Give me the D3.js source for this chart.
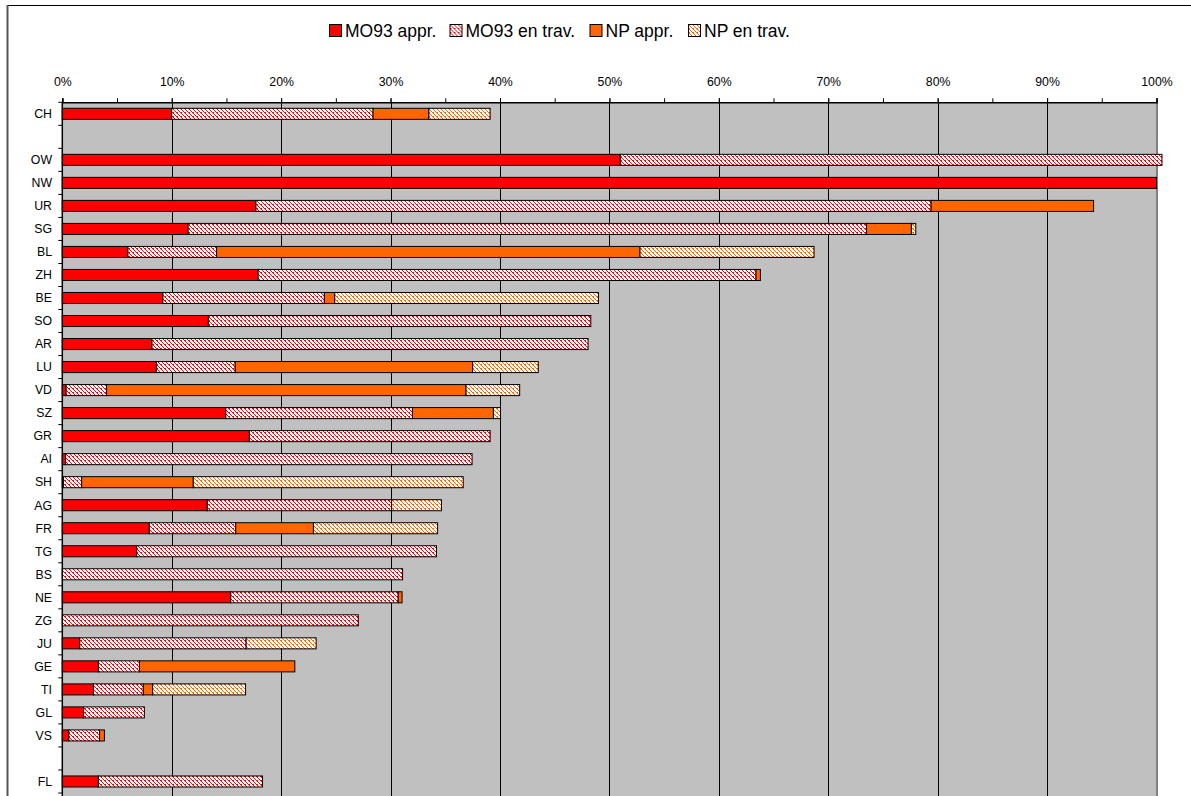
<!DOCTYPE html>
<html>
<head>
<meta charset="utf-8">
<script src="https://cdn.jsdelivr.net/npm/d3@7"></script>
<style>
  html, body { margin: 0; padding: 0; background: #fff; }
  svg { display: block; font-family: "Liberation Sans", Arial, sans-serif; }
</style>
</head>
<body>
<svg id="chart" width="1191" height="796"></svg>
<script>
// Cantons (blank slots separate CH and FL from the cantonal rows)
const categories = ["CH", "gap1", "OW", "NW", "UR", "SG", "BL", "ZH", "BE", "SO", "AR", "LU", "VD", "SZ",
  "GR", "AI", "SH", "AG", "FR", "TG", "BS", "NE", "ZG", "JU", "GE", "TI", "GL", "VS", "gap2", "FL"];

// Share of surface in percent, per state of the survey
const mo93Appr = [10.0, 0, 51.0, 100, 17.7, 11.5, 6.0, 17.9, 9.2, 13.35, 8.2, 8.6, 0.35, 14.95,
  17.1, 0.3, 0.1, 13.25, 7.95, 6.8, 0, 15.4, 0, 1.6, 3.3, 2.85, 1.95, 0.6, 0, 3.3];
const mo93Trav = [18.4, 0, 49.5, 0, 61.7, 62.0, 8.1, 45.5, 14.75, 34.95, 39.85, 7.2, 3.7, 17.05,
  22.0, 37.15, 1.67, 16.85, 7.9, 27.4, 31.1, 15.3, 27.05, 15.2, 3.75, 4.55, 5.55, 2.8, 0, 15.0];
const npAppr = [5.1, 0, 0, 0, 14.85, 4.1, 38.7, 0.4, 0.95, 0, 0, 21.7, 32.85, 7.4,
  0, 0, 10.2, 0, 7.1, 0, 0, 0.35, 0, 0, 14.2, 0.85, 0, 0.45, 0, 0];
const npTrav = [5.6, 0, 0, 0, 0, 0.4, 15.9, 0, 24.1, 0, 0, 6.0, 4.9, 0.65,
  0, 0, 24.67, 4.55, 11.35, 0, 0, 0, 0, 6.4, 0, 8.5, 0, 0, 0, 0];

const seriesNames = ["MO93 appr.", "MO93 en trav.", "NP appr.", "NP en trav."];
const xTicks = [0, 10, 20, 30, 40, 50, 60, 70, 80, 90, 100];

const svg = d3.select("#chart");
const defs = svg.append("defs");

// Dotted diagonal fill used for the "en trav." series
function dotPattern(id, color) {
  const p = defs.append("pattern").attr("id", id)
    .attr("patternUnits", "userSpaceOnUse").attr("width", 4).attr("height", 4);
  p.append("rect").attr("width", 4).attr("height", 4).attr("fill", "#fff");
  for (let yy = 0; yy < 4; yy++) {
    for (let xx = 0; xx < 4; xx++) {
      const k = (xx - yy + 8) % 4;
      if (k === 0 || (k === 1 && yy === 0)) {
        p.append("rect").attr("x", xx).attr("y", yy).attr("width", 1).attr("height", 1).attr("fill", color);
      }
    }
  }
}
dotPattern("patRed", "#ff0000");
dotPattern("patOrange", "#ff6600");

const fills = ["#ff0000", "url(#patRed)", "#ff6600", "url(#patOrange)"];

// Outer frame of the chart
svg.append("line").attr("x1", 7).attr("x2", 1191).attr("y1", 5.5).attr("y2", 5.5)
  .attr("stroke", "#000").attr("stroke-width", 1);
svg.append("line").attr("x1", 7.5).attr("x2", 7.5).attr("y1", 5).attr("y2", 796)
  .attr("stroke", "#555").attr("stroke-width", 2);

const plot = { left: 62.3, right: 1156.5, top: 102.3, bottom: 793 };

const x = d3.scaleLinear().domain([0, 100]).range([plot.left, plot.right]);
const y = d3.scaleBand().domain(categories).range([plot.top, plot.bottom]).padding(0);
const barH = y.bandwidth() * 0.48;

// Plot area
svg.append("rect")
  .attr("x", plot.left).attr("y", plot.top)
  .attr("width", plot.right - plot.left).attr("height", plot.bottom - plot.top + 10)
  .attr("fill", "#c0c0c0");
svg.append("line")
  .attr("x1", plot.right + 0.5).attr("x2", plot.right + 0.5)
  .attr("y1", plot.top).attr("y2", 796)
  .attr("stroke", "#808080").attr("stroke-width", 2);

// Vertical gridlines
svg.append("g").selectAll("line")
  .data(xTicks.filter(d => d > 0 && d < 100))
  .join("line")
  .attr("x1", d => Math.round(x(d)) + 0.5).attr("x2", d => Math.round(x(d)) + 0.5)
  .attr("y1", plot.top).attr("y2", 796)
  .attr("stroke", "#000").attr("stroke-width", 1);

// Stacked bars
const stackData = categories.map((c, i) => ({
  cat: c,
  vals: [mo93Appr[i], mo93Trav[i], npAppr[i], npTrav[i]]
}));
const segs = [];
stackData.forEach(r => {
  let acc = 0;
  r.vals.forEach((v, s) => {
    if (v > 0) segs.push({ cat: r.cat, s, x0: acc, x1: acc + v });
    acc += v;
  });
});
svg.append("g").selectAll("rect")
  .data(segs)
  .join("rect")
  .attr("x", d => x(d.x0))
  .attr("width", d => x(d.x1) - x(d.x0))
  .attr("y", d => y(d.cat) + (y.bandwidth() - barH) / 2)
  .attr("height", barH)
  .attr("fill", d => fills[d.s])
  .attr("stroke", "#000")
  .attr("stroke-width", 1);

// Top axis: minor ticks every 5%, labelled major ticks every 10%
const minorAxis = svg.append("g").attr("transform", `translate(0,${plot.top})`)
  .call(d3.axisTop(x).tickValues(d3.range(0, 101, 5)).tickSize(4).tickFormat(""));
minorAxis.select(".domain").remove();
minorAxis.selectAll("line").attr("stroke", "#000");

const topAxis = svg.append("g").attr("transform", `translate(0,${plot.top})`)
  .call(d3.axisTop(x).tickValues(xTicks).tickSize(4).tickPadding(12).tickFormat(d => d + "%"));
topAxis.select(".domain").attr("stroke", "#000").attr("stroke-width", 1.5);
topAxis.selectAll("line").attr("stroke", "#000");
topAxis.selectAll("text").attr("font-size", 12.3).attr("fill", "#000")
  .attr("font-family", "Liberation Sans, Arial, sans-serif");

// Left axis: ticks on band boundaries, labels at band centres
const leftAxis = svg.append("g");
leftAxis.append("line")
  .attr("x1", plot.left).attr("x2", plot.left)
  .attr("y1", plot.top).attr("y2", 796)
  .attr("stroke", "#000").attr("stroke-width", 1.5);
leftAxis.selectAll("line.tick")
  .data(categories.map(c => y(c)).concat([plot.bottom]))
  .join("line").attr("class", "tick")
  .attr("x1", plot.left - 4).attr("x2", plot.left)
  .attr("y1", d => d).attr("y2", d => d)
  .attr("stroke", "#000");
leftAxis.selectAll("text")
  .data(categories.filter(c => !c.startsWith("gap")))
  .join("text")
  .attr("x", 52).attr("y", d => y(d) + y.bandwidth() / 2)
  .attr("dy", "0.35em")
  .attr("text-anchor", "end")
  .attr("font-size", 12.3)
  .attr("fill", "#000")
  .text(d => d);

// Legend
const legendX = [329, 449.5, 589.5, 688];
const legend = svg.append("g").selectAll("g")
  .data(seriesNames)
  .join("g")
  .attr("transform", (d, i) => `translate(${legendX[i]},24)`);
legend.append("rect")
  .attr("x", 0.5).attr("y", 0.5).attr("width", 12).attr("height", 12)
  .attr("fill", (d, i) => fills[i]).attr("stroke", "#000");
legend.append("text")
  .attr("x", 16).attr("y", 12.6)
  .attr("font-size", 17.5).attr("fill", "#000")
  .text(d => d);
</script>
</body>
</html>
